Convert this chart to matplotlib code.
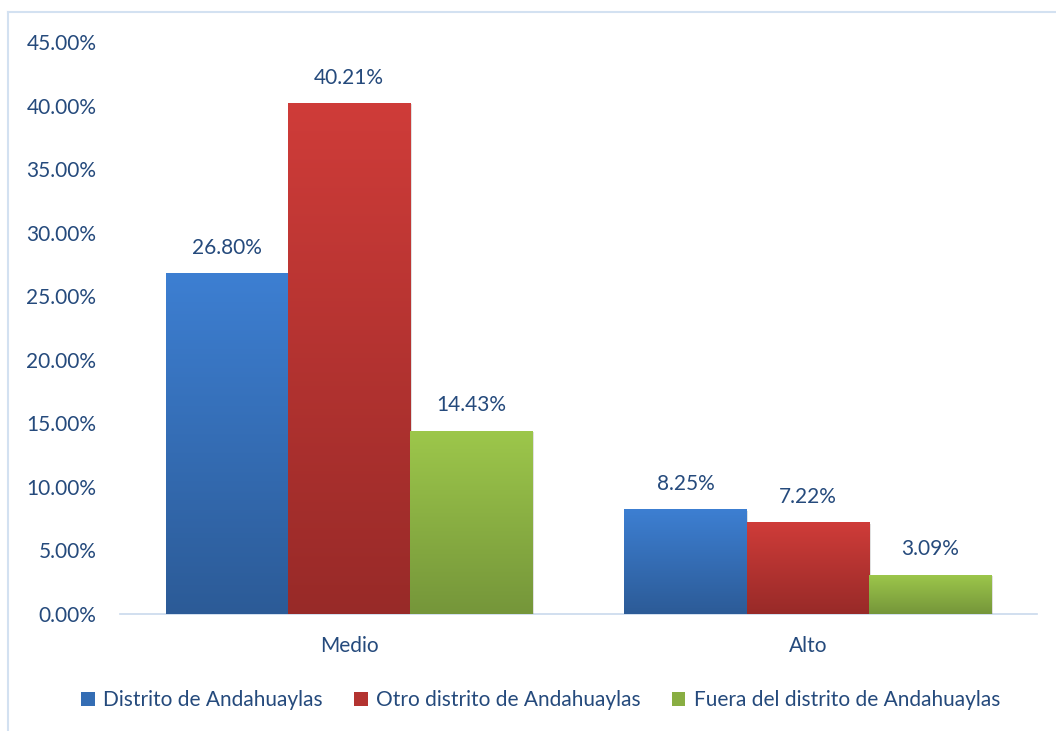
import numpy as np
import matplotlib.pyplot as plt
import matplotlib.colors as mcolors
from matplotlib.patches import Rectangle, Patch
from matplotlib.lines import Line2D

categories = ["Medio", "Alto"]
series = ["Distrito de Andahuaylas", "Otro distrito de Andahuaylas", "Fuera del distrito de Andahuaylas"]
distrito = [26.80, 8.25]
otro = [40.21, 7.22]
fuera = [14.43, 3.09]
yticks = [0, 5, 10, 15, 20, 25, 30, 35, 40, 45]

values = [distrito, otro, fuera]
# (top colour, bottom colour) for the gradient fill
grads = [("#3d7fd2", "#2c5b97"), ("#cf3c39", "#982a28"), ("#9dc74b", "#75963a")]
txt = "#254a7c"
fs = 15

plt.rcParams['font.family'] = ['Lato', 'DejaVu Sans']

fig = plt.figure(figsize=(10.56, 7.31), dpi=100)
ax = fig.add_axes([0.1136, 0.160, 0.982 - 0.1136, 0.9425 - 0.160])

x = np.arange(len(categories))
w = 0.8 / 3
grad = np.linspace(1, 0, 256).reshape(-1, 1)

for i, (vals, (top, bot)) in enumerate(zip(values, grads)):
    cmap = mcolors.LinearSegmentedColormap.from_list("g%d" % i, [bot, top])
    pos = x - w + i * w
    bars = ax.bar(pos, vals, width=w, color=top, edgecolor="none", zorder=2)
    for p, b, v in zip(pos, bars, vals):
        bx, by = b.get_x(), b.get_y()
        bh = b.get_height()
        # soft shadow
        sh = Rectangle((bx + 0.004, by - 0.12), w, bh, facecolor="#000000", alpha=0.12,
                       edgecolor="none", zorder=1)
        ax.add_patch(sh)
        b.set_facecolor("none")
        im = ax.imshow(grad, cmap=cmap, aspect="auto", extent=[bx, bx + w, by, by + bh],
                       zorder=3, interpolation="bicubic")
        im.set_clip_path(b)
        ax.annotate("%.2f%%" % v, (p, v), xytext=(0, 11),
                    textcoords="offset points", ha="center", va="bottom",
                    fontsize=fs, color=txt, zorder=4)

ax.set_xlim(-0.5, 1.5)
ax.set_ylim(0, 45)
ax.set_yticks(yticks)
ax.set_yticklabels(["%.2f%%" % t for t in yticks])
ax.set_xticks(x)
ax.set_xticklabels(categories)
ax.tick_params(axis="both", length=0, labelsize=fs, labelcolor=txt)
ax.tick_params(axis="y", pad=17)
ax.tick_params(axis="x", pad=16)
for s in ["top", "right", "left"]:
    ax.spines[s].set_visible(False)
ax.spines["bottom"].set_color("#c9d9ec")
ax.spines["bottom"].set_linewidth(1.2)
ax.spines["bottom"].set_zorder(0.5)

handles = [Patch(facecolor=mcolors.to_hex(np.mean([mcolors.to_rgb(t), mcolors.to_rgb(b)], axis=0)),
                 edgecolor="none") for t, b in grads]
leg = fig.legend(handles, series, loc="center", bbox_to_anchor=(0.512, 0.042), ncol=3,
                 frameon=False, fontsize=fs, handlelength=0.65, handleheight=0.65,
                 handletextpad=0.4, columnspacing=1.5)
for t in leg.get_texts():
    t.set_color(txt)

# chart border (only top and left visible in the crop)
fig.add_artist(Line2D([8 / 1056, 8 / 1056], [0, 1 - 12 / 731], transform=fig.transFigure,
                      color="#d3e1f1", lw=1.5))
fig.add_artist(Line2D([8 / 1056, 1], [1 - 12 / 731, 1 - 12 / 731], transform=fig.transFigure,
                      color="#d3e1f1", lw=1.5))

fig.savefig("out.png", dpi=100)
plt.close(fig)
